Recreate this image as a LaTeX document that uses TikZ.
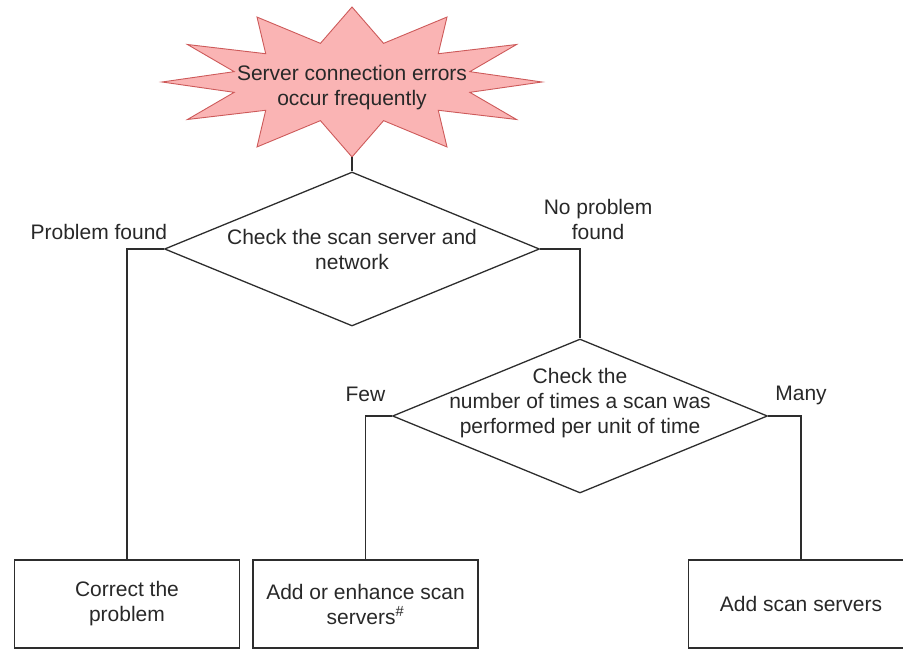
\documentclass[tikz,border=0pt]{standalone}
\usepackage{fontspec}
\setmainfont{Liberation Sans}
\usetikzlibrary{shapes.geometric, positioning, backgrounds}
\definecolor{burstFill}{RGB}{250,180,180}
\definecolor{burstDraw}{RGB}{205,90,90}
\definecolor{lineGray}{RGB}{45,45,45}
\definecolor{textGray}{RGB}{40,40,40}
\tikzset{
    font=\fontsize{21}{25}\selectfont,
    % Shapes
    burstText/.style={minimum width=380pt, minimum height=138pt, align=center, inner sep=0pt, text=textGray},
    burstLine/.style={draw=burstDraw, fill=burstFill, line width=0.9pt, line join=miter},
    decision/.style={diamond, draw=lineGray, line width=1.3pt, inner sep=0pt,
                     minimum width=375pt, minimum height=154pt},
    action/.style={rectangle, draw=lineGray, line width=1.5pt, align=center, text=textGray,
                   minimum width=225pt, minimum height=88pt},
    % Flow & Labels
    flow/.style={lineGray, line width=1.3pt},
    lbl/.style={inner sep=0pt, align=center, text=textGray}
}

\begin{document}
\begin{tikzpicture}[x=1pt, y=-1pt]
\useasboundingbox (0,0) rectangle (903,650);
\clip (0,0) rectangle (903,650);

\node[burstText] (alarm) at (352,88) {Server connection errors\\occur frequently};
\begin{scope}[on background layer]
  \filldraw[burstLine, shift={([yshift=6pt]alarm.center)}]
    (0:190pt and 75pt)
    \foreach \a in {0,30,...,330} { -- (\a+15:122pt and 40pt) -- (\a+30:190pt and 75pt) }
    -- cycle;
\end{scope}

\node[decision] (chkNet) at (352,249) {};
\node[lbl] at (chkNet) {Check the scan server and\\network};
\node[decision] (chkCount) at (580,416) {};
\node[lbl, yshift=13pt] at (chkCount) {Check the\\number of times a scan was\\performed per unit of time};

\node[action] (fix) at (127,604) {Correct the\\problem};
\node[action, right=12pt of fix] (enhance) {Add or enhance scan\\servers\textsuperscript{\#}};
\node[action] (addSrv) at (801,604) {Add scan servers};

\draw[flow] (alarm.south) -- (chkNet.north);
\draw[flow] (chkNet.west) -| node[pos=0, lbl, anchor=base east, xshift=4pt, yshift=9pt] {Problem found} (fix.north);
\draw[flow] (chkNet.east) -| node[pos=0, lbl, anchor=south west, xshift=3pt, yshift=9pt] {No problem\\found} (chkCount.north);
\draw[flow] (chkCount.west) -| node[pos=0.5, lbl, anchor=base, yshift=15pt] {Few} (enhance.north);
\draw[flow] (chkCount.east) -| node[pos=0.5, lbl, anchor=base, yshift=16pt] {Many} (addSrv.north);

\end{tikzpicture}
\end{document}
